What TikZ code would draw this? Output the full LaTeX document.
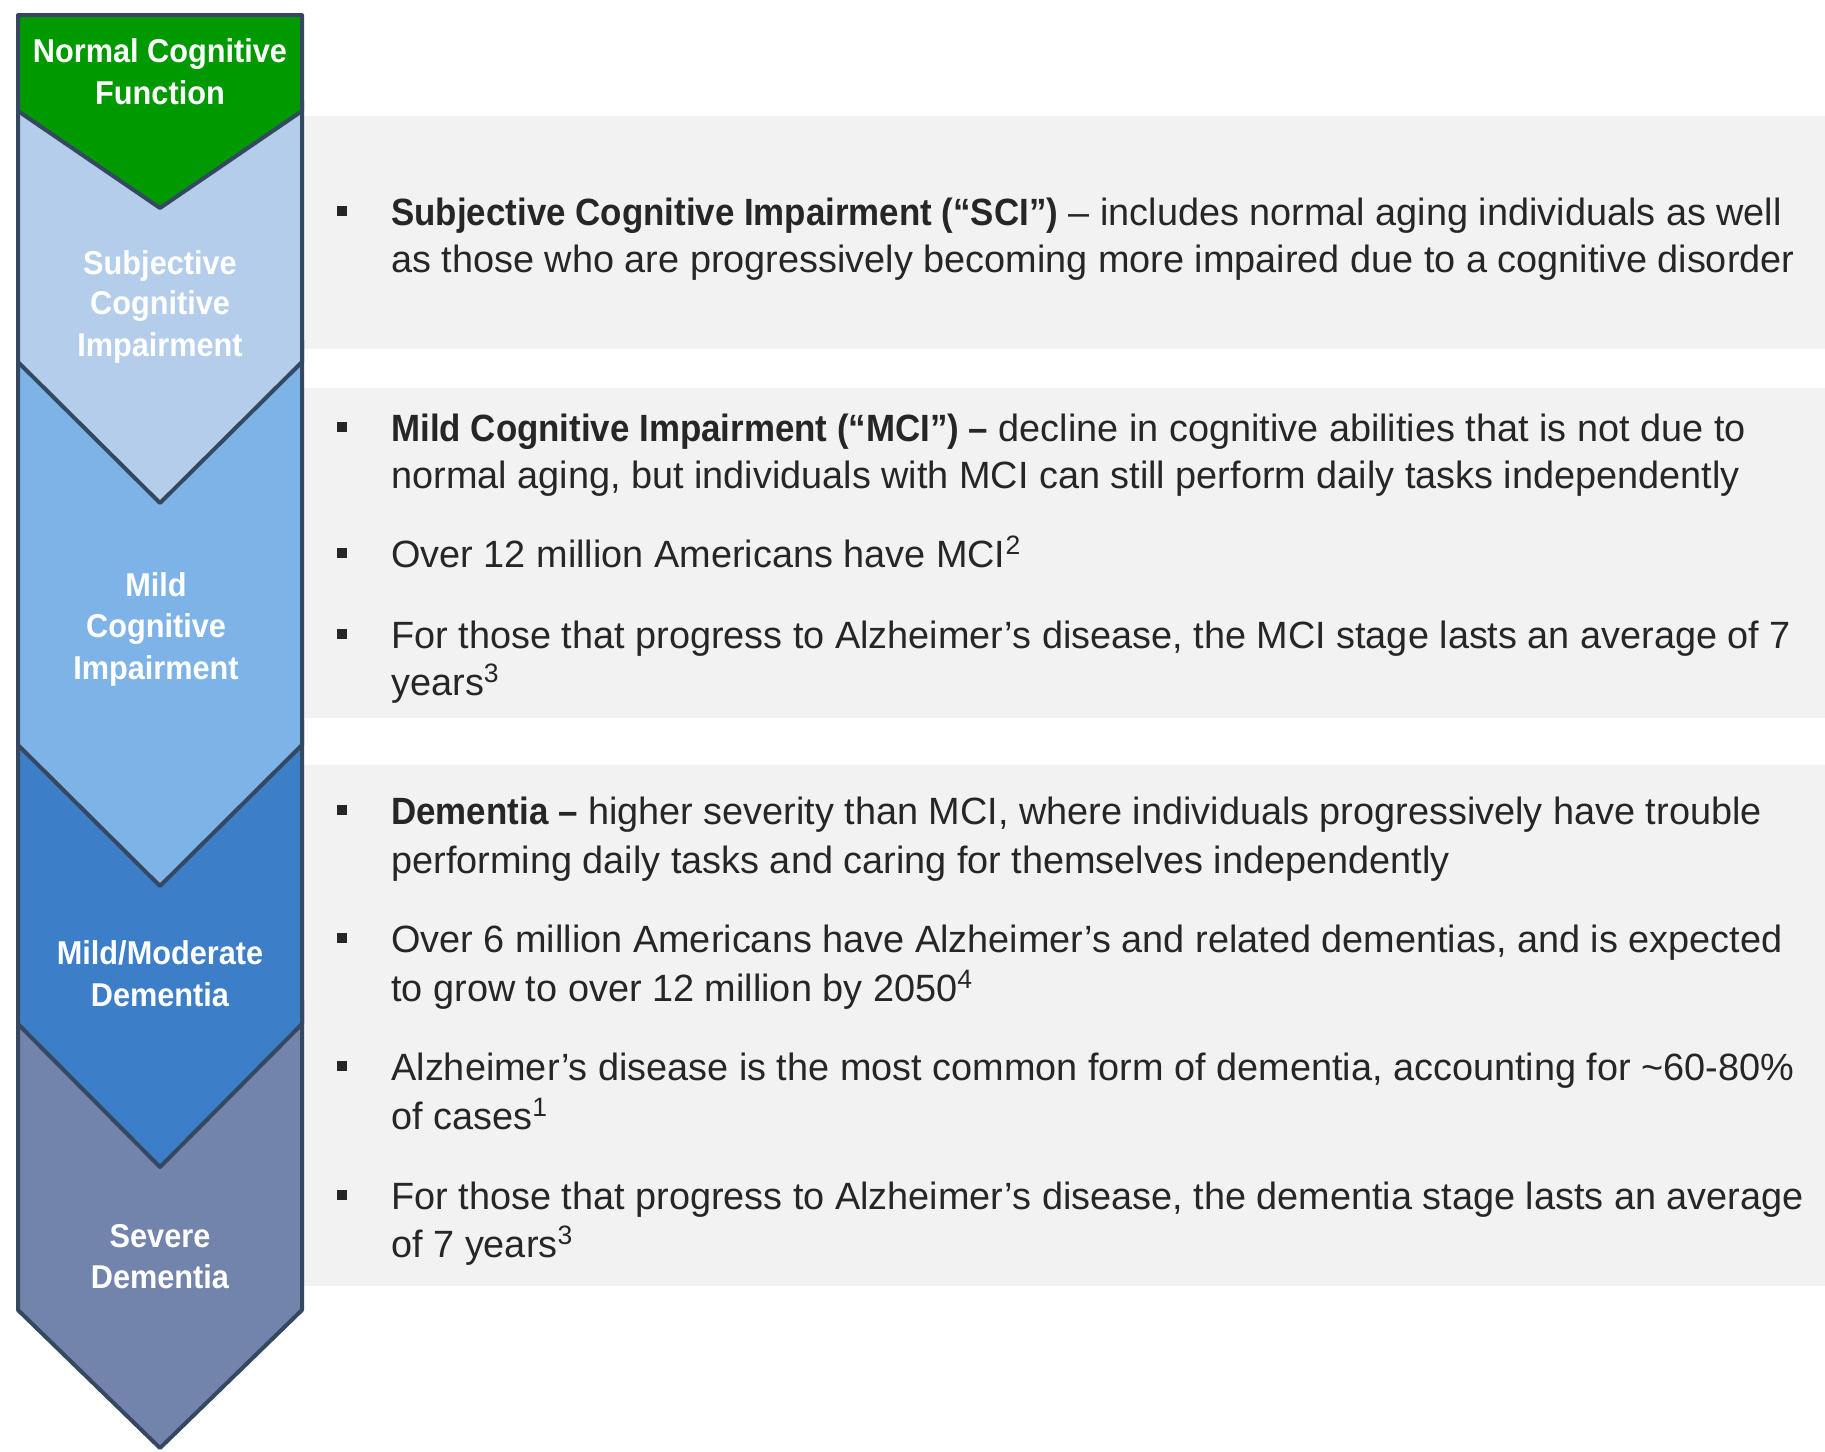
\documentclass[tikz,border=0pt]{standalone}
\usepackage{fontspec}
\setmainfont[UprightFeatures={FakeStretch=0.996}, BoldFeatures={FakeStretch=0.918}]{Liberation Sans}
\newfontfamily\chevfont[FakeStretch=0.93]{Liberation Sans}
\definecolor{cgreen}{RGB}{0,153,0}
\definecolor{csci}{RGB}{180,205,234}
\definecolor{cmci}{RGB}{126,179,232}
\definecolor{cmm}{RGB}{61,126,200}
\definecolor{csev}{RGB}{114,131,172}
\definecolor{cborder}{RGB}{52,72,96}
\definecolor{cpanel}{RGB}{242,242,242}
\definecolor{ctxt}{RGB}{38,38,38}
\tikzset{
  chev/.style={draw=cborder, line width=2pt, line join=round},
  panel/.style={fill=cpanel, draw=none},
  ctext/.style={text=white, font=\chevfont\fontsize{16.5}{20}\selectfont\bfseries, anchor=base, inner sep=0pt},
  txt/.style={text=ctxt, font=\fontsize{19}{23}\selectfont, anchor=base west, inner sep=0pt},
  bsq/.style={fill=ctxt, draw=none, minimum size=5.2pt, inner sep=0pt}
}
\begin{document}
\begin{tikzpicture}[x=0.5pt,y=-0.5pt]
\useasboundingbox (0,0) rectangle (1825,1451);
% panels
\fill[panel] (303,116) rectangle (1825,349);
\fill[panel] (303,388) rectangle (1825,718);
\fill[panel] (303,765) rectangle (1825,1286);
% chevrons (bottom first)
\filldraw[chev, fill=csev] (18,1000) -- (302,1000) -- (302,1310) -- (160,1448) -- (18,1310) -- cycle;
\filldraw[chev, fill=cmm] (18,720) -- (302,720) -- (302,1024) -- (160,1167) -- (18,1024) -- cycle;
\filldraw[chev, fill=cmci] (18,340) -- (302,340) -- (302,745) -- (160,886) -- (18,745) -- cycle;
\filldraw[chev, fill=csci] (18,100) -- (302,100) -- (302,362) -- (160,503) -- (18,362) -- cycle;
\filldraw[chev, fill=cgreen] (18,15) -- (302,15) -- (302,111) -- (160,208) -- (18,111) -- cycle;
% chevron labels
\node[ctext] (n1) at (160,62) {Normal Cognitive};
\node[ctext] (n2) at (160,104) {Function};
\node[ctext] (s1) at (160,274) {Subjective};
\node[ctext] (s2) at (160,314) {Cognitive};
\node[ctext] (s3) at (160,356) {Impairment};
\node[ctext] (m1) at (156,596) {Mild};
\node[ctext] (m2) at (156,637) {Cognitive};
\node[ctext] (m3) at (156,679) {Impairment};
\node[ctext] (d1) at (160,964) {Mild/Moderate};
\node[ctext] (d2) at (160,1006) {Dementia};
\node[ctext] (v1) at (160,1247) {Severe};
\node[ctext] (v2) at (160,1288) {Dementia};
% bullets panel 1
\node[bsq] (q1) at (342,211) {};
\node[txt] (t1a) at (391,225) {\textbf{Subjective Cognitive Impairment (“SCI”)} – includes normal aging individuals as well};
\node[txt] (t1b) at (391,272) {as those who are progressively becoming more impaired due to a cognitive disorder};
% panel 2
\node[bsq] (q2) at (342,427) {};
\node[txt] (t2a) at (391,441) {\textbf{Mild Cognitive Impairment (“MCI”) –} decline in cognitive abilities that is not due to};
\node[txt] (t2b) at (391,488) {normal aging, but individuals with MCI can still perform daily tasks independently};
\node[bsq] (q3) at (342,553) {};
\node[txt] (t3a) at (391,567) {Over 12 million Americans have MCI\textsuperscript{2}};
\node[bsq] (q4) at (342,634) {};
\node[txt] (t4a) at (391,648) {For those that progress to Alzheimer’s disease, the MCI stage lasts an average of 7};
\node[txt] (t4b) at (391,695) {years\textsuperscript{3}};
% panel 3
\node[bsq] (q5) at (342,810) {};
\node[txt] (t5a) at (391,824) {\textbf{Dementia –} higher severity than MCI, where individuals progressively have trouble};
\node[txt] (t5b) at (391,873) {performing daily tasks and caring for themselves independently};
\node[bsq] (q6) at (342,938) {};
\node[txt] (t6a) at (391,952) {Over 6 million Americans have Alzheimer’s and related dementias, and is expected};
\node[txt] (t6b) at (391,1001) {to grow to over 12 million by 2050\textsuperscript{4}};
\node[bsq] (q7) at (342,1066) {};
\node[txt] (t7a) at (391,1080) {Alzheimer’s disease is the most common form of dementia, accounting for \textasciitilde60-80\%};
\node[txt] (t7b) at (391,1129) {of cases\textsuperscript{1}};
\node[bsq] (q8) at (342,1195) {};
\node[txt] (t8a) at (391,1209) {For those that progress to Alzheimer’s disease, the dementia stage lasts an average};
\node[txt] (t8b) at (391,1257) {of 7 years\textsuperscript{3}};
\end{tikzpicture}
\end{document}
